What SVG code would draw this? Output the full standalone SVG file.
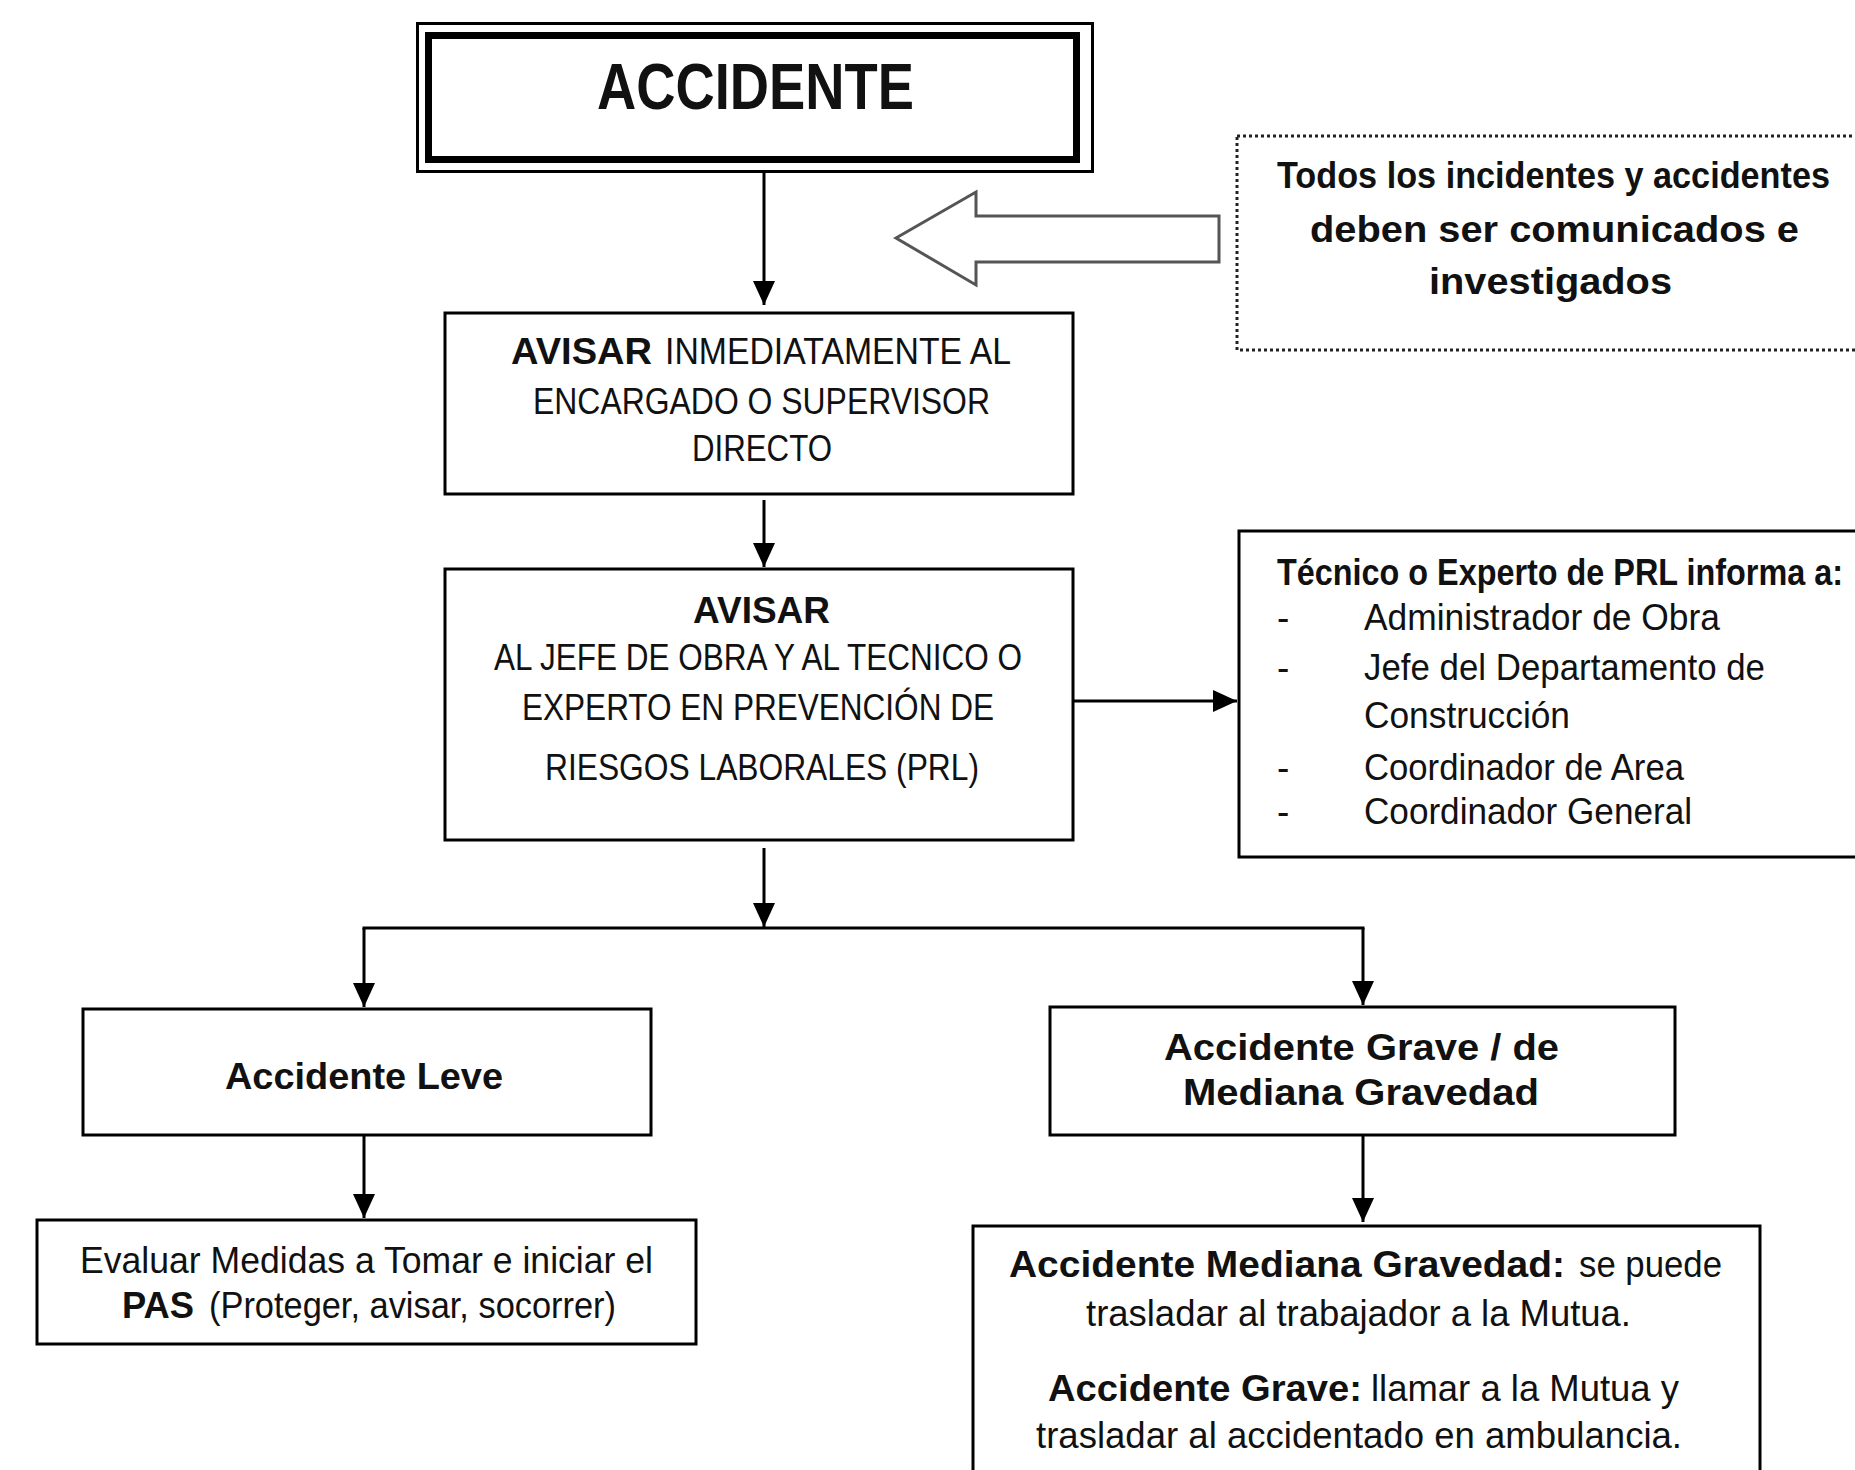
<svg xmlns="http://www.w3.org/2000/svg" width="1855" height="1470" viewBox="0 0 1855 1470">
<style>
.box{fill:#fff;stroke:#000;stroke-width:3}
.t{font-family:"Liberation Sans",Arial,sans-serif;font-size:37px;fill:#111}
.b{font-weight:bold}
.c{text-anchor:middle}
.conn{fill:none;stroke:#000;stroke-width:3}
</style>
<defs>
<marker id="ah" markerUnits="userSpaceOnUse" markerWidth="24" markerHeight="22" refX="24" refY="11" orient="auto">
<path d="M0,0 L24,11 L0,22 Z" fill="#000"/>
</marker>
</defs>
<rect width="1855" height="1470" fill="#fff"/>

<g id="connectors">
<line class="conn" x1="764" y1="173" x2="764" y2="305" marker-end="url(#ah)"/>
<line class="conn" x1="764" y1="500" x2="764" y2="567" marker-end="url(#ah)"/>
<line class="conn" x1="1073" y1="701" x2="1237" y2="701" marker-end="url(#ah)"/>
<line class="conn" x1="764" y1="848" x2="764" y2="927" marker-end="url(#ah)"/>
<line class="conn" x1="362.5" y1="928" x2="1364.5" y2="928"/>
<line class="conn" x1="364" y1="928" x2="364" y2="1007" marker-end="url(#ah)"/>
<line class="conn" x1="1363" y1="928" x2="1363" y2="1005" marker-end="url(#ah)"/>
<line class="conn" x1="364" y1="1135" x2="364" y2="1218" marker-end="url(#ah)"/>
<line class="conn" x1="1363" y1="1135" x2="1363" y2="1222" marker-end="url(#ah)"/>
<polygon points="896,238 976,192 976,216 1219,216 1219,262 976,262 976,285" fill="#fff" stroke="#555" stroke-width="3"/>
</g>

<g id="accidente">
<rect x="417.5" y="23.5" width="675" height="148" fill="#fff" stroke="#000" stroke-width="3"/>
<rect x="428.5" y="35.5" width="648" height="124" fill="none" stroke="#000" stroke-width="7"/>
<text class="t b" x="597" y="109" textLength="317" lengthAdjust="spacingAndGlyphs" style="font-size:64px">ACCIDENTE</text>
</g>

<g id="nota">
<rect x="1237" y="136" width="640" height="214" fill="#fff" stroke="#222" stroke-width="3" stroke-dasharray="3 3"/>
<text class="t b" x="1277" y="188" textLength="553" lengthAdjust="spacingAndGlyphs">Todos los incidentes y accidentes</text>
<text class="t b" x="1310" y="242" textLength="489" lengthAdjust="spacingAndGlyphs">deben ser comunicados e</text>
<text class="t b" x="1429" y="294" textLength="243" lengthAdjust="spacingAndGlyphs">investigados</text>
</g>

<g id="avisar1">
<rect class="box" x="445" y="313" width="628" height="181"/>
<text class="t b" x="511" y="364" textLength="141" lengthAdjust="spacingAndGlyphs">AVISAR</text>
<text class="t" x="665" y="364" textLength="346" lengthAdjust="spacingAndGlyphs">INMEDIATAMENTE AL</text>
<text class="t" x="533" y="414" textLength="457" lengthAdjust="spacingAndGlyphs">ENCARGADO O SUPERVISOR</text>
<text class="t" x="692" y="461" textLength="140" lengthAdjust="spacingAndGlyphs">DIRECTO</text>
</g>

<g id="avisar2">
<rect class="box" x="445" y="569" width="628" height="271"/>
<text class="t b" x="693" y="623" textLength="137" lengthAdjust="spacingAndGlyphs">AVISAR</text>
<text class="t" x="494" y="670" textLength="528" lengthAdjust="spacingAndGlyphs">AL JEFE DE OBRA Y AL TECNICO O</text>
<text class="t" x="522" y="720" textLength="472" lengthAdjust="spacingAndGlyphs">EXPERTO EN PREVENCIÓN DE</text>
<text class="t" x="545" y="780" textLength="434" lengthAdjust="spacingAndGlyphs">RIESGOS LABORALES (PRL)</text>
</g>

<g id="informa">
<rect class="box" x="1239" y="531" width="640" height="326"/>
<text class="t b" x="1277" y="585" textLength="566" lengthAdjust="spacingAndGlyphs">Técnico o Experto de PRL informa a:</text>
<text class="t" x="1277" y="630">-</text>
<text class="t" x="1364" y="630" textLength="356" lengthAdjust="spacingAndGlyphs">Administrador de Obra</text>
<text class="t" x="1277" y="680">-</text>
<text class="t" x="1364" y="680" textLength="401" lengthAdjust="spacingAndGlyphs">Jefe del Departamento de</text>
<text class="t" x="1364" y="728" textLength="206" lengthAdjust="spacingAndGlyphs">Construcción</text>
<text class="t" x="1277" y="780">-</text>
<text class="t" x="1364" y="780" textLength="320" lengthAdjust="spacingAndGlyphs">Coordinador de Area</text>
<text class="t" x="1277" y="824">-</text>
<text class="t" x="1364" y="824" textLength="328" lengthAdjust="spacingAndGlyphs">Coordinador General</text>
</g>

<g id="leve">
<rect class="box" x="83" y="1009" width="568" height="126"/>
<text class="t b" x="225" y="1089" textLength="278" lengthAdjust="spacingAndGlyphs">Accidente Leve</text>
</g>

<g id="evaluar">
<rect class="box" x="37" y="1220" width="659" height="124"/>
<text class="t" x="80" y="1273" textLength="573" lengthAdjust="spacingAndGlyphs">Evaluar Medidas a Tomar e iniciar el</text>
<text class="t b" x="122" y="1318" textLength="72" lengthAdjust="spacingAndGlyphs">PAS</text>
<text class="t" x="209" y="1318" textLength="407" lengthAdjust="spacingAndGlyphs">(Proteger, avisar, socorrer)</text>
</g>

<g id="grave">
<rect class="box" x="1050" y="1007" width="625" height="128"/>
<text class="t b" x="1164" y="1060" textLength="395" lengthAdjust="spacingAndGlyphs">Accidente Grave / de</text>
<text class="t b" x="1183" y="1105" textLength="356" lengthAdjust="spacingAndGlyphs">Mediana Gravedad</text>
</g>

<g id="acciones">
<rect class="box" x="973" y="1226" width="787" height="260"/>
<text class="t b" x="1009" y="1277" textLength="556" lengthAdjust="spacingAndGlyphs">Accidente Mediana Gravedad:</text>
<text class="t" x="1579" y="1277" textLength="143" lengthAdjust="spacingAndGlyphs">se puede</text>
<text class="t" x="1086" y="1326" textLength="545" lengthAdjust="spacingAndGlyphs">trasladar al trabajador a la Mutua.</text>
<text class="t b" x="1048" y="1401" textLength="314" lengthAdjust="spacingAndGlyphs">Accidente Grave:</text>
<text class="t" x="1371" y="1401" textLength="308" lengthAdjust="spacingAndGlyphs">llamar a la Mutua y</text>
<text class="t" x="1036" y="1448" textLength="646" lengthAdjust="spacingAndGlyphs">trasladar al accidentado en ambulancia.</text>
</g>
</svg>
